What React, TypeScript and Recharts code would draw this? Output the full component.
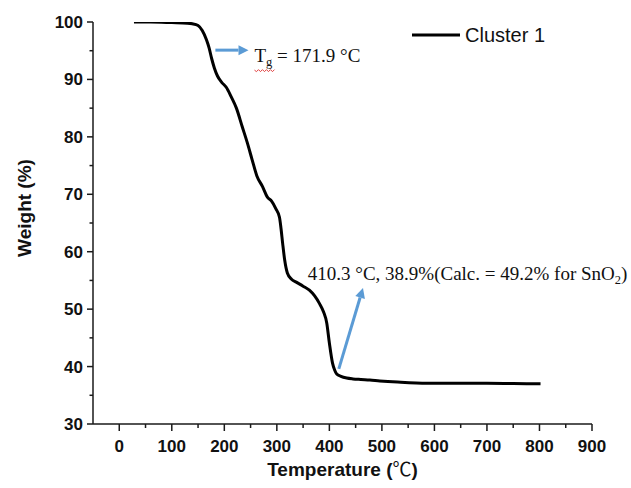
import React from 'react';
import { LineChart, Line, XAxis, YAxis, ReferenceLine, Legend } from 'recharts';

// ---- data ----
const temperature = [
  28, 60, 100, 130, 139, 150, 158, 166, 171, 176, 181, 187, 195, 204, 213, 223, 234, 244, 253, 262, 273,
  282, 290, 298, 305, 308, 311, 315, 320, 328, 337, 350, 362, 372, 381, 389, 395, 400, 406, 410, 414,
  422, 433, 445, 460, 477, 496, 530, 586, 640, 700, 750, 802,
];
const weight = [
  100, 100, 99.9, 99.8, 99.7, 99.4, 98.5, 96.9, 95.5, 93.6, 92.0, 90.6, 89.5, 88.6, 87.0, 85.0, 81.8, 78.9, 76, 73.2, 71.3,
  69.5, 68.8, 67.5, 66, 64, 61.5, 58.5, 56.3, 55.2, 54.7, 54.0, 53.3, 52.3, 51, 49.5, 47.6, 44.1, 40.6, 39.4, 38.7,
  38.3, 38.0, 37.85, 37.75, 37.65, 37.5, 37.3, 37.1, 37.1, 37.1, 37.05, 37.0,
];
const seriesName = 'Cluster 1';

const xTicks = [-50, 0, 50, 100, 150, 200, 250, 300, 350, 400, 450, 500, 550, 600, 650, 700, 750, 800, 850, 900];
const yTicks = [30, 35, 40, 45, 50, 55, 60, 65, 70, 75, 80, 85, 90, 95, 100];
const xLabel = 'Temperature (';
const xLabelUnit = '℃';
const yLabel = 'Weight (%)';

// annotation arrows (data coordinates: temperature, weight)
const tgArrow = [{ x: 183, y: 95.1 }, { x: 246, y: 95.1 }];
const residueArrow = [{ x: 418, y: 39.6 }, { x: 464, y: 53.7 }];
const tgText = { main: 'T', sub: 'g', rest: ' = 171.9 °C' };
const residueText = { main: '410.3 °C, 38.9%(Calc. = 49.2% for SnO', sub: '2', rest: ')' };

const data = temperature.map((t, i) => ({ t, w: weight[i] }));

const AXIS = '#1a1a1a';
const BLUE = '#5B9BD5';
const SANS = '"Liberation Sans", Arial, sans-serif';
const SERIF = '"Liberation Serif", "Times New Roman", serif';

const XTick = (props: any) => {
  const { x, y, payload } = props;
  const v = payload.value;
  if (v < 0) return <g />;
  const major = v % 100 === 0;
  return (
    <g>
      <line x1={x} x2={x} y1={y} y2={y + (major ? 7 : 4)} stroke={AXIS} strokeWidth={1.5} />
      {major && (
        <text x={x} y={y + 28} textAnchor="middle" fontFamily={SANS} fontWeight="bold" fontSize={17} fill="#111">
          {v}
        </text>
      )}
    </g>
  );
};

const YTick = (props: any) => {
  const { x, y, payload } = props;
  const v = payload.value;
  const major = v % 10 === 0;
  return (
    <g>
      <line x1={x - (major ? 6 : 3.5)} x2={x} y1={y} y2={y} stroke={AXIS} strokeWidth={1.5} />
      {major && (
        <text x={x - 10} y={y + 6} textAnchor="end" fontFamily={SANS} fontWeight="bold" fontSize={17} fill="#111">
          {v}
        </text>
      )}
    </g>
  );
};

const arrowParts = (x1: number, y1: number, x2: number, y2: number) => {
  const dx = x2 - x1;
  const dy = y2 - y1;
  const len = Math.hypot(dx, dy) || 1;
  const ux = dx / len;
  const uy = dy / len;
  const head = 10;
  const half = 5;
  const bx = x2 - ux * head;
  const by = y2 - uy * head;
  const px = -uy;
  const py = ux;
  return (
    <>
      <line x1={x1} y1={y1} x2={bx} y2={by} stroke={BLUE} strokeWidth={3} />
      <polygon
        points={`${x2},${y2} ${bx + px * half},${by + py * half} ${bx - px * half},${by - py * half}`}
        fill={BLUE}
      />
    </>
  );
};

const TgShape = (props: any) => {
  const { x1, y1, x2, y2 } = props;
  const tx = x2 + 6;
  const ty = y2 + 12;
  let wave = `M${tx},${ty + 8}`;
  for (let i = 1; i <= 10; i++) wave += ` L${tx + i * 2},${ty + 8 + (i % 2 ? 1.5 : -0.5)}`;
  return (
    <g>
      {arrowParts(x1, y1, x2, y2)}
      <text x={tx} y={ty} fontFamily={SERIF} fontSize={19} fill="#111">
        {tgText.main}
        <tspan fontSize={12.5} dy={4}>{tgText.sub}</tspan>
        <tspan dy={-4}>{tgText.rest}</tspan>
      </text>
      <path d={wave} stroke="#e04040" strokeWidth={1} fill="none" />
    </g>
  );
};

const ResidueShape = (props: any) => {
  const { x1, y1, x2, y2 } = props;
  return (
    <g>
      {arrowParts(x1, y1, x2, y2)}
      <text x={x1 - 31} y={y2 - 8} fontFamily={SERIF} fontSize={19} fill="#111">
        {residueText.main}
        <tspan fontSize={12.5} dy={4}>{residueText.sub}</tspan>
        <tspan dy={-4}>{residueText.rest}</tspan>
      </text>
    </g>
  );
};

const renderLegend = (props: any) => {
  const { payload } = props;
  return (
    <div>
      {(payload || []).map((entry: any) => (
        <div key={entry.value} style={{ display: 'flex', alignItems: 'center', height: 22 }}>
          <svg width={48} height={6} style={{ display: 'block' }}>
            <line x1={0} x2={48} y1={3} y2={3} stroke={entry.color} strokeWidth={3} />
          </svg>
          <span style={{ marginLeft: 5, fontFamily: SANS, fontSize: 20, color: '#111', lineHeight: '22px' }}>
            {entry.value}
          </span>
        </div>
      ))}
    </div>
  );
};

const YLabel = (props: any) => {
  const { viewBox } = props;
  const cx = viewBox.x + viewBox.width - 69;
  const cy = viewBox.y + viewBox.height / 2 - 15;
  return (
    <text
      x={cx}
      y={cy}
      transform={`rotate(-90 ${cx} ${cy})`}
      textAnchor="middle"
      dominantBaseline="central"
      fontFamily={SANS}
      fontWeight="bold"
      fontSize={19}
      fill="#111"
    >
      {yLabel}
    </text>
  );
};

const XLabel = (props: any) => {
  const { viewBox } = props;
  const cx = viewBox.x + viewBox.width / 2;
  const cy = viewBox.y + 52;
  return (
    <text x={cx} y={cy} textAnchor="middle" fontFamily={SANS} fontWeight="bold" fontSize={19} fill="#111">
      {xLabel}
      <tspan fontFamily='"Noto Sans CJK SC", serif' fontWeight="normal">{xLabelUnit}</tspan>
      )
    </text>
  );
};

export default function App() {
  return (
    <div style={{ position: 'absolute', left: 0, top: 0, width: 631, height: 488, background: '#fff' }}>
      <LineChart width={631} height={488} data={data} margin={{ top: 22, right: 39, bottom: 24, left: 33 }}>
        <XAxis
          dataKey="t"
          type="number"
          domain={[-50, 900]}
          ticks={xTicks}
          interval={0}
          tick={<XTick />}
          tickLine={false}
          tickSize={0}
          tickMargin={0}
          height={40}
          axisLine={{ stroke: AXIS, strokeWidth: 1.5 }}
          allowDataOverflow
          label={<XLabel />}
        />
        <YAxis
          type="number"
          domain={[30, 100]}
          ticks={yTicks}
          interval={0}
          tick={<YTick />}
          tickLine={false}
          tickSize={0}
          tickMargin={0}
          width={60}
          axisLine={{ stroke: AXIS, strokeWidth: 1.5 }}
          allowDataOverflow
          label={<YLabel />}
        />
        <Legend
          content={renderLegend}
          layout="vertical"
          align="center"
          verticalAlign="middle"
          wrapperStyle={{ top: 24, left: 412, width: 170 }}
        />
        <Line
          type="monotone"
          dataKey="w"
          name={seriesName}
          stroke="#000"
          strokeWidth={3}
          dot={false}
          activeDot={false}
          isAnimationActive={false}
        />
        <ReferenceLine segment={tgArrow} shape={TgShape} ifOverflow="visible" />
        <ReferenceLine segment={residueArrow} shape={ResidueShape} ifOverflow="visible" />
      </LineChart>
    </div>
  );
}
